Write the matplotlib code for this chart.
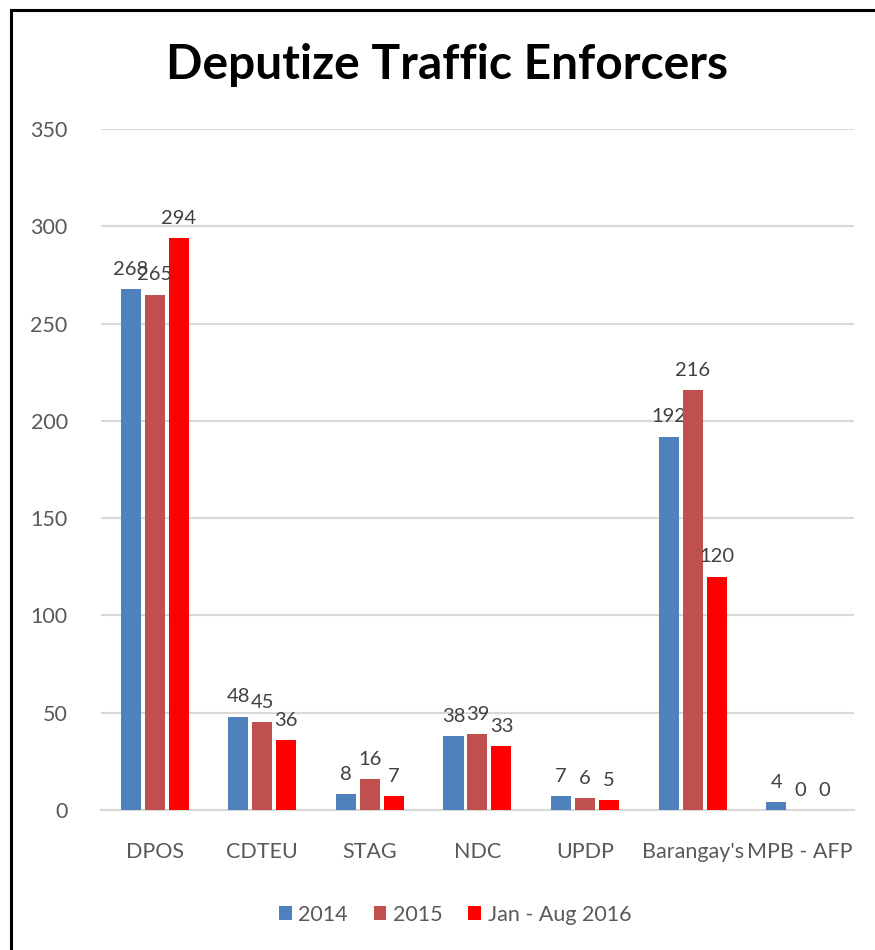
import matplotlib.pyplot as plt
import matplotlib.patches as patches
import numpy as np

categories = ["DPOS", "CDTEU", "STAG", "NDC", "UPDP", "Barangay's", "MPB - AFP"]
values_2014 = [268, 48, 8, 38, 7, 192, 4]
values_2015 = [265, 45, 16, 39, 6, 216, 0]
values_2016 = [294, 36, 7, 33, 5, 120, 0]
series_names = ["2014", "2015", "Jan - Aug 2016"]
colors = ["#4f81bd", "#c0504d", "#ff0000"]

plt.rcParams["font.family"] = ["Lato", "DejaVu Sans"]

fig = plt.figure(figsize=(8.75, 9.5), dpi=100)
ax = fig.add_axes([0.1154, 0.1474, 0.8606, 0.7166])

x = np.arange(len(categories))
width = 0.186
step = 0.223

for i, (vals, name, col) in enumerate(zip([values_2014, values_2015, values_2016], series_names, colors)):
    pos = x + (i - 1) * step
    ax.bar(pos, vals, width=width, color=col, label=name, zorder=3)
    for p, v in zip(pos, vals):
        ax.annotate(str(v), (p, v), xytext=(0, 8), textcoords="offset points",
                    ha="center", va="bottom", fontsize=14.5, color="#404040")

ax.set_xlim(-0.5, len(categories) - 0.5)
ax.set_ylim(0, 350)
ax.set_yticks(np.arange(0, 351, 50))
ax.yaxis.grid(True, color="#d9d9d9", linewidth=1.5, zorder=0)
ax.set_axisbelow(True)
for side in ["top", "right", "left"]:
    ax.spines[side].set_visible(False)
ax.spines["bottom"].set_color("#d9d9d9")
ax.spines["bottom"].set_linewidth(1.5)
ax.tick_params(axis="both", length=0, labelsize=15.5, labelcolor="#595959")
ax.tick_params(axis="y", pad=24)
ax.tick_params(axis="x", pad=23)
ax.set_xticks(x)
ax.set_xticklabels(categories)

fig.text(0.511, 0.932, "Deputize Traffic Enforcers", ha="center", va="center",
         fontsize=34.5, fontweight="bold", color="black")

fig.legend(loc="center", bbox_to_anchor=(0.52, 0.037), ncol=3, frameon=False,
           fontsize=15.5, handlelength=0.6, handleheight=0.6, handletextpad=0.3,
           columnspacing=1.2, labelcolor="#595959")

border = patches.Rectangle((11 / 875, -0.05), 1.0, 1 - 10 / 950 + 0.05,
                           transform=fig.transFigure, fill=False,
                           edgecolor="black", linewidth=2.2, clip_on=False)
fig.patches.append(border)

fig.savefig("out.png", dpi=100)
